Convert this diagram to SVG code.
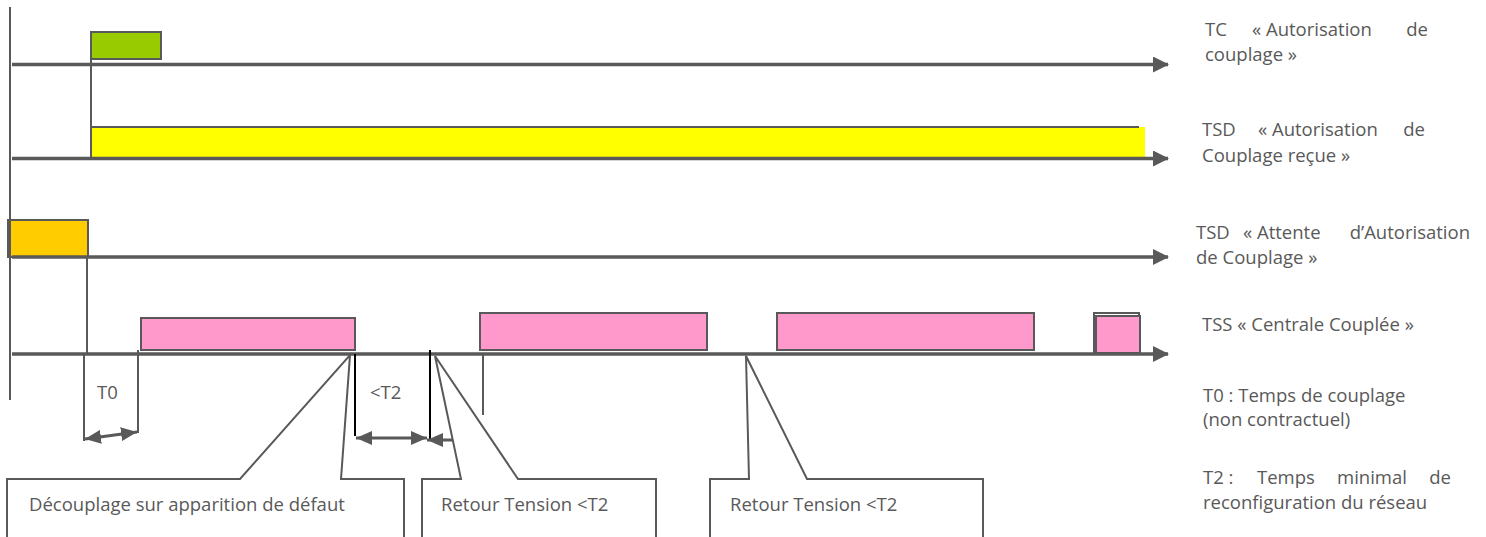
<svg xmlns="http://www.w3.org/2000/svg" width="1486" height="537" viewBox="0 0 1486 537">
<style>
text{font-family:"Open Sans","Liberation Sans",sans-serif;font-size:18.5px;fill:#595959}
.axis{stroke:#595959;stroke-width:3.5;fill:none}
.thin{stroke:#595959;stroke-width:2;fill:none}
.dim{stroke:#595959;stroke-width:3;fill:none}
.blk{stroke:#000;stroke-width:2;fill:none}
.bar{stroke:#595959;stroke-width:2}
.call{stroke:#595959;stroke-width:2;fill:#fff}
.end{text-anchor:end}
</style>
<defs>
<marker id="ah" viewBox="0 0 16 16" refX="15" refY="8" markerWidth="16" markerHeight="16" markerUnits="userSpaceOnUse" orient="auto-start-reverse">
<path d="M0,0 L16,8 L0,16 Z" fill="#595959"/>
</marker>
<marker id="dh" viewBox="0 0 16 14" refX="16" refY="7" markerWidth="16" markerHeight="14" markerUnits="userSpaceOnUse" orient="auto-start-reverse">
<path d="M0,0 L16,7 L0,14 Z" fill="#595959"/>
</marker>
</defs>

<g id="signals">
<g id="tc">
<rect x="91" y="32" width="70" height="27" fill="#99CC00" class="bar"/>
</g>
<g id="tsd-recue">
<rect x="91" y="127" width="1054" height="30" fill="#FFFF00"/>
<line x1="91" y1="127" x2="1139" y2="127" class="thin"/>
</g>
<g id="tsd-attente">
<rect x="8" y="220" width="80" height="37" fill="#FFCC00" class="bar"/>
</g>
<g id="tss">
<rect x="141" y="318" width="214" height="32" fill="#FF99CC" class="bar"/>
<rect x="480" y="313" width="227" height="37" fill="#FF99CC" class="bar"/>
<rect x="777" y="313" width="257" height="37" fill="#FF99CC" class="bar"/>
<rect x="1094" y="313" width="45" height="41" fill="none" class="bar"/>
<rect x="1096" y="316" width="44" height="37" fill="#FF99CC" class="bar"/>
</g>
</g>

<g id="connectors">
<line x1="10" y1="7" x2="10" y2="400" class="thin"/>
<line x1="12" y1="64.5" x2="1168" y2="64.5" class="axis" marker-end="url(#ah)"/>
<line x1="12" y1="158.5" x2="1168" y2="158.5" class="axis" marker-end="url(#ah)"/>
<line x1="12" y1="257" x2="1168" y2="257" class="axis" marker-end="url(#ah)"/>
<line x1="12" y1="354" x2="1168" y2="354" class="axis" marker-end="url(#ah)"/>
<line x1="91" y1="59" x2="91" y2="158" class="thin"/>
<line x1="87" y1="257" x2="87" y2="354" class="thin"/>
<line x1="84" y1="354" x2="84" y2="441" class="thin"/>
<line x1="138" y1="350" x2="138" y2="433" class="thin"/>
<line x1="85" y1="439" x2="137" y2="432" class="dim" marker-start="url(#dh)" marker-end="url(#dh)"/>
<line x1="355" y1="354" x2="355" y2="436" class="blk"/>
<line x1="430" y1="350" x2="430" y2="440" class="blk"/>
<line x1="356" y1="438" x2="427" y2="438" class="dim" marker-start="url(#dh)" marker-end="url(#dh)"/>
<line x1="427" y1="440" x2="455" y2="440" class="dim" marker-start="url(#dh)"/>
<line x1="483" y1="354" x2="483" y2="415" class="thin"/>
</g>

<g id="callout-decouplage">
<path d="M7,545 L7,479 L240,479 L350,355 L341,479 L404,479 L404,545" class="call"/>
<text x="29" y="511">Découplage sur apparition de défaut</text>
</g>
<g id="callout-retour1">
<path d="M422,545 L422,479 L461,479 L435,356 L518,479 L656,479 L656,545" class="call"/>
<text x="441" y="511">Retour Tension &lt;T2</text>
</g>
<g id="callout-retour2">
<path d="M710,545 L710,479 L749,479 L746,356 L807,479 L983,479 L983,545" class="call"/>
<text x="730" y="511">Retour Tension &lt;T2</text>
</g>

<g id="dim-labels">
<text x="97" y="399">T0</text>
<text x="370" y="399">&lt;T2</text>
</g>

<g id="legend">
<text x="1205" y="36">TC</text>
<text x="1252" y="36">« Autorisation</text>
<text x="1428" y="36" class="end">de</text>
<text x="1205" y="61">couplage »</text>

<text x="1202" y="136">TSD</text>
<text x="1258" y="136">« Autorisation</text>
<text x="1425" y="136" class="end">de</text>
<text x="1202" y="162">Couplage reçue »</text>

<text x="1196" y="239">TSD</text>
<text x="1243" y="239">« Attente</text>
<text x="1470" y="239" class="end">d’Autorisation</text>
<text x="1196" y="264">de Couplage »</text>

<text x="1202" y="331">TSS « Centrale Couplée »</text>

<text x="1203" y="402">T0 : Temps de couplage</text>
<text x="1203" y="426">(non contractuel)</text>

<text x="1203" y="484">T2 :</text>
<text x="1257" y="484">Temps</text>
<text x="1337" y="484">minimal</text>
<text x="1451" y="484" class="end">de</text>
<text x="1203" y="509">reconfiguration du réseau</text>
</g>
</svg>
